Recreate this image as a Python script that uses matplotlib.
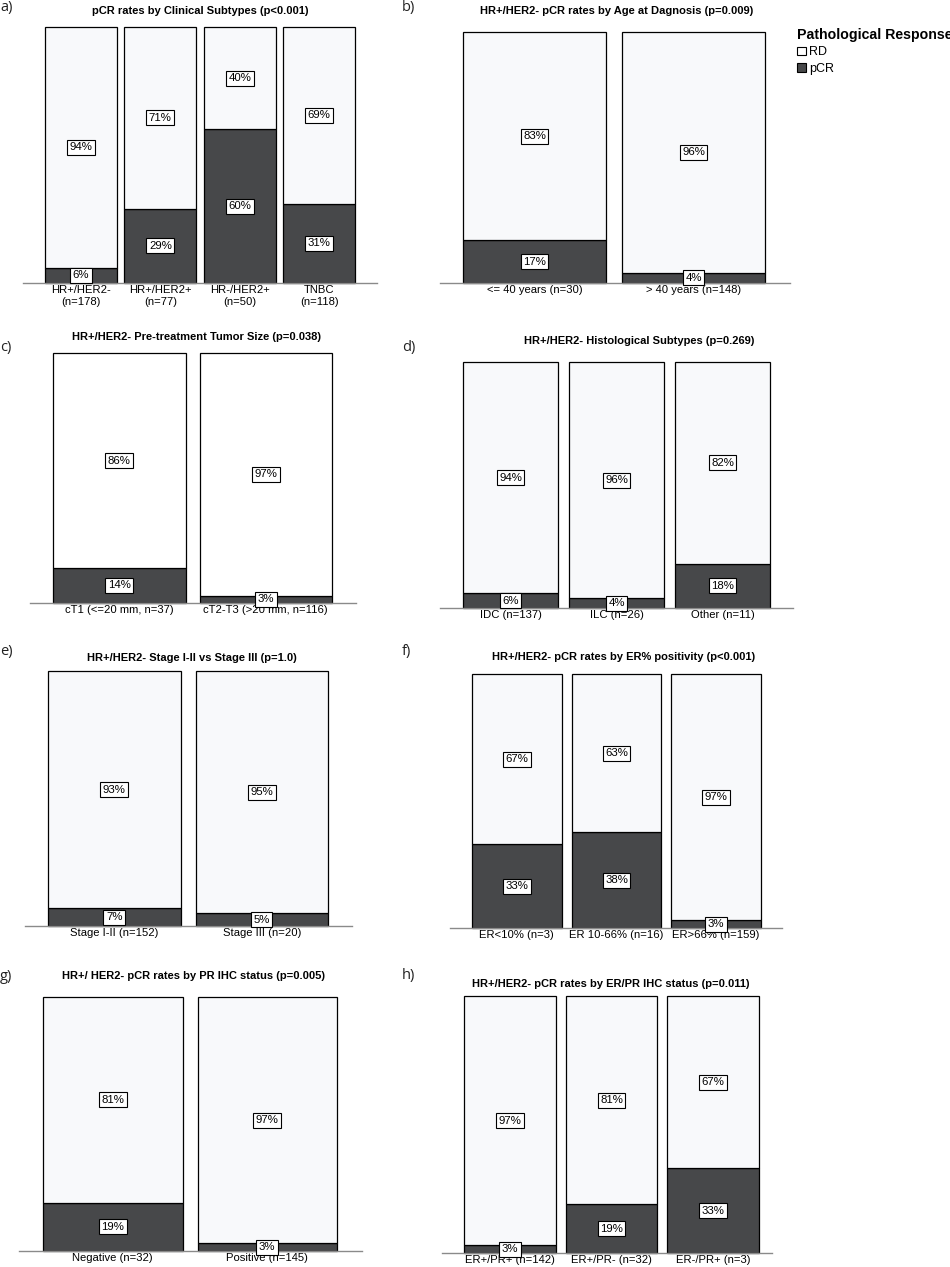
import matplotlib
matplotlib.use("Agg")
import matplotlib.pyplot as plt
from matplotlib.patches import Patch
import numpy as np

plt.rcParams['font.family'] = ['Liberation Sans', 'DejaVu Sans']

W, H = 950, 1267
DARK = "#47484a"
LIGHT = "#f8f9fb"

#----- data: percent of patients per group -----#
a_cats = ["HR+/HER2-\n(n=178)", "HR+/HER2+\n(n=77)", "HR-/HER2+\n(n=50)", "TNBC\n(n=118)"]
a_pcr = [6, 29, 60, 31]
a_rd = [94, 71, 40, 69]

b_cats = ["<= 40 years (n=30)", "> 40 years (n=148)"]
b_pcr = [17, 4]
b_rd = [83, 96]

c_cats = ["cT1 (<=20 mm, n=37)", "cT2-T3 (>20 mm, n=116)"]
c_pcr = [14, 3]
c_rd = [86, 97]

d_cats = ["IDC (n=137)", "ILC (n=26)", "Other (n=11)"]
d_pcr = [6, 4, 18]
d_rd = [94, 96, 82]

e_cats = ["Stage I-II (n=152)", "Stage III (n=20)"]
e_pcr = [7, 5]
e_rd = [93, 95]

f_cats = ["ER<10% (n=3)", "ER 10-66% (n=16)", "ER>66% (n=159)"]
f_pcr = [33, 38, 3]
f_rd = [67, 63, 97]

g_cats = ["Negative (n=32)", "Positive (n=145)"]
g_pcr = [19, 3]
g_rd = [81, 97]

h_cats = ["ER+/PR+ (n=142)", "ER+/PR- (n=32)", "ER-/PR+ (n=3)"]
h_pcr = [3, 19, 33]
h_rd = [97, 81, 67]

titles = {
    "a": "pCR rates by Clinical Subtypes (p<0.001)",
    "b": "HR+/HER2- pCR rates by Age at Dagnosis (p=0.009)",
    "c": "HR+/HER2- Pre-treatment Tumor Size (p=0.038)",
    "d": "HR+/HER2- Histological Subtypes (p=0.269)",
    "e": "HR+/HER2- Stage I-II vs Stage III (p=1.0)",
    "f": "HR+/HER2- pCR rates by ER% positivity (p<0.001)",
    "g": "HR+/ HER2- pCR rates by PR IHC status (p=0.005)",
    "h": "HR+/HER2- pCR rates by ER/PR IHC status (p=0.011)",
}

# pixel layout: axis line L..R, first bar left, last bar right, bar top, baseline, gap
layout = {
    "a": dict(L=23, R=377, b0=45, bn=355, top=27, base=283, gap=7.5, tx=200, ty=11, lx=0, ly=7),
    "b": dict(L=440, R=790, b0=463, bn=765, top=32, base=283, gap=16, tx=617, ty=11, lx=402, ly=7),
    "c": dict(L=30, R=356, b0=53, bn=332, top=353, base=603, gap=14, tx=196, ty=337, lx=0, ly=348),
    "d": dict(L=440, R=793, b0=463, bn=770, top=362, base=608, gap=11, tx=639, ty=341, lx=402, ly=348),
    "e": dict(L=25, R=352, b0=48, bn=328, top=671, base=926, gap=15, tx=192, ty=658, lx=0, ly=651),
    "f": dict(L=450, R=782, b0=472, bn=761, top=674, base=928, gap=10, tx=624, ty=657, lx=402, ly=651),
    "g": dict(L=19, R=362, b0=43, bn=337, top=997, base=1251, gap=15, tx=193, ty=976, lx=0, ly=977),
    "h": dict(L=442, R=772, b0=464, bn=759, top=996, base=1253, gap=10, tx=611, ty=984, lx=402, ly=975),
}

panels = [
    ("a", a_cats, a_pcr, a_rd),
    ("b", b_cats, b_pcr, b_rd),
    ("c", c_cats, c_pcr, c_rd),
    ("d", d_cats, d_pcr, d_rd),
    ("e", e_cats, e_pcr, e_rd),
    ("f", f_cats, f_pcr, f_rd),
    ("g", g_cats, g_pcr, g_rd),
    ("h", h_cats, h_pcr, h_rd),
]


def draw_panel(fig, key, cats, pcr, rd):
    lo = layout[key]
    n = len(cats)
    ax = fig.add_axes([lo["L"] / W, 1 - lo["base"] / H,
                       (lo["R"] - lo["L"]) / W, (lo["base"] - lo["top"]) / H])
    bw = (lo["bn"] - lo["b0"] - (n - 1) * lo["gap"]) / n
    pitch = bw + lo["gap"]
    width = bw / pitch
    ax.set_xlim(-(bw / 2 + lo["b0"] - lo["L"]) / pitch,
                n - 1 + (bw / 2 + lo["R"] - lo["bn"]) / pitch)
    ax.set_ylim(0, 1)

    pcr = np.array(pcr, float)
    rd = np.array(rd, float)
    p = pcr / (pcr + rd)
    r = rd / (pcr + rd)
    x = np.arange(n)
    light = "white" if key == "c" else LIGHT
    ax.bar(x, p, width, color=DARK, edgecolor="black", linewidth=0.9, clip_on=False, zorder=2)
    ax.bar(x, r, width, bottom=p, color=light, edgecolor="black", linewidth=0.9, clip_on=False, zorder=2)

    box = dict(boxstyle="square,pad=0.22", fc="white", ec="black", lw=0.8)
    for xi, pi, ri, pv, rv in zip(x, p, r, pcr, rd):
        ax.text(xi, pi / 2, f"{pv:.0f}%", ha="center", va="center", fontsize=8.2,
                bbox=box, zorder=5, clip_on=False)
        ax.text(xi, pi + ri / 2, f"{rv:.0f}%", ha="center", va="center", fontsize=8.2,
                bbox=box, zorder=5)

    ax.set_xticks(x, cats)
    ax.tick_params(axis="x", length=0, pad=1.5, labelsize=8.1)
    ax.set_yticks([])
    for s in ["top", "left", "right"]:
        ax.spines[s].set_visible(False)
    ax.spines["bottom"].set_color("#8a8a8a")
    ax.spines["bottom"].set_linewidth(1.0)
    ax.patch.set_alpha(0)

    fig.text(lo["tx"] / W, 1 - lo["ty"] / H, titles[key], ha="center", va="center",
             fontsize=8.0, fontweight="bold")
    fig.text(lo["lx"] / W, 1 - lo["ly"] / H, key + ")", ha="left", va="center",
             fontsize=10.5, family=["Open Sans", "DejaVu Sans"], color="#222222")
    return ax


fig = plt.figure(figsize=(W / 100, H / 100), dpi=100)

for key, cats, pcr, rd in panels:
    draw_panel(fig, key, cats, pcr, rd)

handles = [Patch(facecolor="white", edgecolor="black", linewidth=0.8, label="RD"),
           Patch(facecolor=DARK, edgecolor="black", linewidth=0.8, label="pCR")]
leg = fig.legend(handles=handles, title="Pathological Response", loc="upper left",
                 bbox_to_anchor=(797 / W, 1 - 28 / H), frameon=False, fontsize=9,
                 handlelength=0.7, handleheight=0.7, handletextpad=0.25,
                 labelspacing=0.35, borderpad=0, borderaxespad=0, alignment="left",
                 title_fontproperties={"weight": "bold", "size": 10.2})

fig.savefig("out.png", dpi=100)
